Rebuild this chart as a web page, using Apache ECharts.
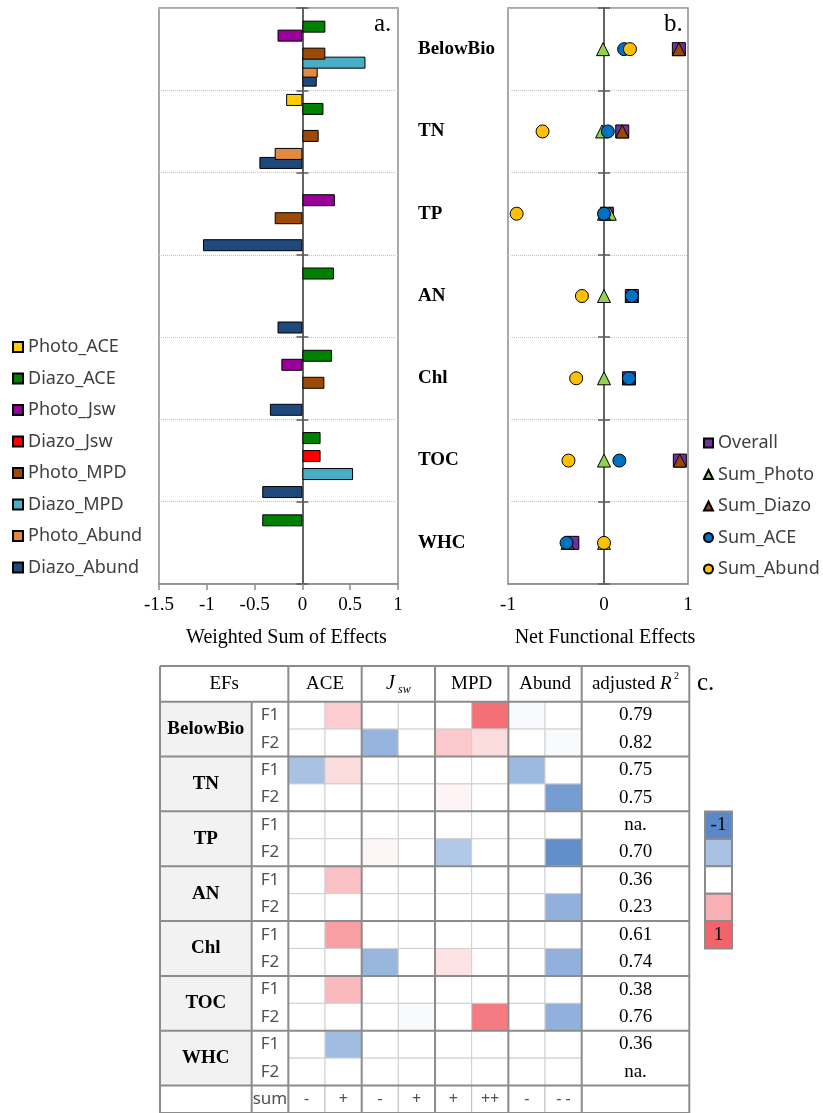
<!DOCTYPE html>
<html><head><meta charset="utf-8">
<script src="https://cdn.jsdelivr.net/npm/echarts@6/dist/echarts.min.js"></script>
<style>html,body{margin:0;padding:0;background:#fff}#c{width:823px;height:1113px}</style>
</head><body><div id="c"></div>
<script>
// ---------------- data ----------------
const efNames = ['BelowBio', 'TN', 'TP', 'AN', 'Chl', 'TOC', 'WHC'];

// panel a: weighted sum of effects (0 = no bar)
const barNames = ['Photo_ACE', 'Diazo_ACE', 'Photo_Jsw', 'Diazo_Jsw', 'Photo_MPD', 'Diazo_MPD', 'Photo_Abund', 'Diazo_Abund'];
const photoACE   = [0, -0.17, 0, 0, 0, 0, 0];
const diazoACE   = [0.24, 0.22, 0, 0.33, 0.31, 0.19, -0.42];
const photoJsw   = [-0.26, 0, 0.34, 0, -0.22, 0, 0];
const diazoJsw   = [0, 0, 0, 0, 0, 0.19, 0];
const photoMPD   = [0.24, 0.17, -0.29, 0, 0.23, 0, 0];
const diazoMPD   = [0.66, 0, 0, 0, 0, 0.53, 0];
const photoAbund = [0.16, -0.29, 0, 0, 0, 0, 0];
const diazoAbund = [0.15, -0.45, -1.04, -0.26, -0.34, -0.42, 0];
const axisATicks = [-1.5, -1, -0.5, 0, 0.5, 1];

// panel b: net functional effects
const pointNames = ['Overall', 'Sum_Photo', 'Sum_Diazo', 'Sum_ACE', 'Sum_Abund'];
const overall  = [0.78, 0.19, 0.03, 0.29, 0.26, 0.79, -0.33];
const sumPhoto = [-0.01, -0.02, 0.06, 0, 0, 0, 0];
const sumDiazo = [0.78, 0.19, 0, 0.29, 0.26, 0.79, -0.38];
const sumACE   = [0.21, 0.04, 0, 0.29, 0.26, 0.16, -0.39];
const sumAbund = [0.27, -0.64, -0.91, -0.23, -0.29, -0.37, 0];
const axisBTickValues = [-1, 0, 0.875];
const axisBTickLabels = ['-1', '0', '1'];

// panel c: table
const factorLabels = ['F1', 'F2'];
const colGroups = ['ACE', 'Jsw', 'MPD', 'Abund'];
const sumSigns = ['-', '+', '-', '+', '+', '++', '-', '- -'];
const adjR2 = ['0.79', '0.82', '0.75', '0.75', 'na.', '0.70', '0.36', '0.23', '0.61', '0.74', '0.38', '0.76', '0.36', 'na.'];
// columns: ACE-, ACE+, Jsw-, Jsw+, MPD+, MPD++, Abund-, Abund--
const cellValues = [
  [0, 0.32, 0, 0, 0, 0.92, -0.04, 0],      // BelowBio F1
  [0, 0, -0.62, 0, 0.35, 0.22, 0, -0.04],  // BelowBio F2
  [-0.5, 0.22, 0, 0, 0, 0, -0.58, 0],      // TN F1
  [0, 0, 0, 0, 0.07, 0, 0, -0.82],         // TN F2
  [0, 0, 0, 0, 0, 0, 0, 0],                // TP F1
  [0, 0, 0.06, 0, -0.45, 0, 0, -0.95],     // TP F2
  [0, 0.4, 0, 0, 0, 0, 0, 0],              // AN F1
  [0, 0, 0, 0, 0, 0, 0, -0.65],            // AN F2
  [0, 0.62, 0, 0, 0, 0, 0, 0],             // Chl F1
  [0, 0, -0.6, 0, 0.18, 0, 0, -0.65],      // Chl F2
  [0, 0.45, 0, 0, 0, 0, 0, 0],             // TOC F1
  [0, 0, 0, -0.04, 0, 0.85, 0, -0.65],     // TOC F2
  [0, -0.55, 0, 0, 0, 0, 0, 0],            // WHC F1
  [0, 0, 0, 0, 0, 0, 0, 0]                 // WHC F2
];
const legendSteps = [-1, -0.5, 0, 0.5, 1];
const legendLabels = ['-1', '', '', '', '1'];

// ---------------- styles ----------------
const SERIF = "'Liberation Serif', 'Times New Roman', serif";
const SANS = "'Noto Sans', sans-serif";
const FRAME = '#8c8c8c';
const ZERO = '#5a5a5a';
const barColors = ['#ffcc00', '#008000', '#990099', '#ff0000', '#9c4a06', '#4bacc6', '#e08a44', '#1f497d'];
const pointStyles = [
  {symbol: 'rect', color: '#7030a0'},
  {symbol: 'triangle', color: '#92d050'},
  {symbol: 'triangle', color: '#974706'},
  {symbol: 'circle', color: '#0070c0'},
  {symbol: 'circle', color: '#ffc000'}
];
const colorStops = [[-1, [90, 136, 200]], [-0.5, [169, 194, 228]], [0, [255, 255, 255]], [0.5, [249, 177, 181]], [1, [242, 100, 107]]];
function colorFor(v) {
  for (let i = 1; i < colorStops.length; i++) {
    if (v <= colorStops[i][0]) {
      const a = colorStops[i - 1], b = colorStops[i];
      const t = (v - a[0]) / (b[0] - a[0]);
      const c = a[1].map((x, k) => Math.round(x + (b[1][k] - x) * t));
      return 'rgb(' + c.join(',') + ')';
    }
  }
  return 'rgb(' + colorStops[colorStops.length - 1][1].join(',') + ')';
}

// ---------------- table layout (in table units) ----------------
const U_HEAD = 2.5, U_FAC = 1, U_R2 = 2.934, HEAD_H = 1.3;
const X_DATA = U_HEAD + U_FAC;
const X_R2 = X_DATA + 8;
const TW = X_R2 + U_R2;
const NROW = cellValues.length;
const TH = HEAD_H + NROW + 1;

const tableCells = [];
function addCell(x0, y0, x1, y1, o) { tableCells.push(Object.assign({x0, y0, x1, y1}, o)); }
// header row
addCell(0, 0, X_DATA, HEAD_H, {fill: '#fff', text: 'EFs', font: {fontFamily: SERIF, fontSize: 19, fill: '#000'}});
colGroups.forEach((g, k) => {
  const o = {fill: '#fff', font: {fontFamily: SERIF, fontSize: 19, fill: '#000'}};
  if (g === 'Jsw') {
    o.text = '{j|J}{s| sw}';
    o.rich = {j: {fontFamily: SERIF, fontStyle: 'italic', fontSize: 20, fill: '#000', lineHeight: 24},
              s: {fontFamily: SERIF, fontStyle: 'italic', fontSize: 12, fill: '#000', verticalAlign: 'bottom', lineHeight: 14}};
  } else o.text = g;
  addCell(X_DATA + 2 * k, 0, X_DATA + 2 * k + 2, HEAD_H, o);
});
addCell(X_R2, 0, TW, HEAD_H, {fill: '#fff', text: '{n|adjusted }{i|R}{p| 2}',
  rich: {n: {fontFamily: SERIF, fontSize: 19, fill: '#000', lineHeight: 24},
         i: {fontFamily: SERIF, fontStyle: 'italic', fontSize: 19, fill: '#000', lineHeight: 24},
         p: {fontFamily: SERIF, fontSize: 10, fill: '#000', verticalAlign: 'top', lineHeight: 14}}});
// body
efNames.forEach((ef, g) => {
  const y = HEAD_H + 2 * g;
  addCell(0, y, U_HEAD, y + 2, {fill: '#f2f2f2', text: ef, font: {fontFamily: SERIF, fontSize: 19, fontWeight: 'bold', fill: '#000'}});
  factorLabels.forEach((f, r) => {
    const yy = y + r;
    addCell(U_HEAD, yy, X_DATA, yy + 1, {fill: '#fff', text: f, font: {fontFamily: SANS, fontSize: 17, fill: '#505050'}});
    cellValues[2 * g + r].forEach((v, j) => {
      addCell(X_DATA + j, yy, X_DATA + j + 1, yy + 1, {fill: colorFor(v), stroke: '#cfcfcf'});
    });
    addCell(X_R2, yy, TW, yy + 1, {fill: '#fff', text: adjR2[2 * g + r], font: {fontFamily: SERIF, fontSize: 19, fill: '#000'}});
  });
});
// sum row
const ySum = HEAD_H + NROW;
addCell(U_HEAD, ySum, X_DATA, ySum + 1, {fill: '#fff', text: 'sum', align: 'left', font: {fontFamily: SANS, fontSize: 17, fill: '#505050'}});
sumSigns.forEach((s, j) => addCell(X_DATA + j, ySum, X_DATA + j + 1, ySum + 1, {fill: '#fff', stroke: '#bdbdbd', text: s, font: {fontFamily: SANS, fontSize: 16, fill: '#505050'}}));

// major rule lines of the table
const tableRules = [];
[0, HEAD_H].concat(efNames.map((e, g) => HEAD_H + 2 * (g + 1))).concat([TH]).forEach(y => tableRules.push([0, y, TW, y]));
[0, X_DATA, X_DATA + 2, X_DATA + 4, X_DATA + 6, X_R2, TW].forEach(x => tableRules.push([x, 0, x, TH]));
tableRules.push([U_HEAD, HEAD_H, U_HEAD, TH]);

// ---------------- chart ----------------
const chart = echarts.init(document.getElementById('c'));
const barSeriesData = [photoACE, diazoACE, photoJsw, diazoJsw, photoMPD, diazoMPD, photoAbund, diazoAbund];
const pointSeriesData = [overall, sumPhoto, sumDiazo, sumACE, sumAbund];

const series = [];
barNames.forEach((name, i) => series.push({
  name, type: 'bar', xAxisIndex: 0, yAxisIndex: 0,
  data: barSeriesData[i].map(v => v === 0 ? '-' : v),
  barWidth: 12, barGap: '-25%',
  itemStyle: {color: barColors[i], borderColor: '#000', borderWidth: 1},
  z: 20 - i
}));
pointNames.forEach((name, i) => series.push({
  name, type: 'scatter', xAxisIndex: 1, yAxisIndex: 2,
  symbol: pointStyles[i].symbol, symbolSize: 13,
  data: pointSeriesData[i].map((v, k) => [v, k]),
  itemStyle: {color: pointStyles[i].color, borderColor: '#000', borderWidth: 1, opacity: 1},
  z: 3 + i
}));
series.push({
  type: 'custom', xAxisIndex: 2, yAxisIndex: 5, z: 2, silent: true,
  data: tableCells.map(c => [c.x0, c.y0, c.x1, c.y1]),
  renderItem(params, api) {
    const c = tableCells[params.dataIndex];
    const p0 = api.coord([api.value(0), api.value(1)]);
    const p1 = api.coord([api.value(2), api.value(3)]);
    const ch = [{type: 'rect', shape: {x: p0[0], y: p0[1], width: p1[0] - p0[0], height: p1[1] - p0[1]},
                 style: {fill: c.fill, stroke: c.stroke || null, lineWidth: 1}}];
    if (c.text) {
      const st = Object.assign({text: c.text, x: c.align === 'left' ? p0[0] + 1 : (p0[0] + p1[0]) / 2, y: (p0[1] + p1[1]) / 2,
                                align: c.align || 'center', verticalAlign: 'middle'}, c.font || {});
      if (c.rich) st.rich = c.rich;
      ch.push({type: 'text', style: st});
    }
    return {type: 'group', children: ch};
  }
});
series.push({
  type: 'custom', xAxisIndex: 2, yAxisIndex: 5, z: 4, silent: true,
  data: tableRules,
  renderItem(params, api) {
    const p0 = api.coord([api.value(0), api.value(1)]);
    const p1 = api.coord([api.value(2), api.value(3)]);
    return {type: 'line', shape: {x1: p0[0], y1: p0[1], x2: p1[0], y2: p1[1]}, style: {stroke: FRAME, lineWidth: 2}};
  }
});
series.push({
  type: 'custom', xAxisIndex: 3, yAxisIndex: 6, z: 2, silent: true,
  data: legendSteps.map((v, i) => [0, i, v]),
  renderItem(params, api) {
    const c = api.coord([0, api.value(1)]);
    const s = api.size([1, 1]);
    const v = api.value(2);
    return {type: 'group', children: [
      {type: 'rect', shape: {x: c[0] - s[0] / 2, y: c[1] - s[1] / 2, width: s[0], height: s[1]},
       style: {fill: colorFor(v), stroke: FRAME, lineWidth: 2}},
      {type: 'text', style: {text: legendLabels[params.dataIndex], x: c[0], y: c[1], align: 'center', verticalAlign: 'middle',
        fontFamily: SERIF, fontSize: 19, fill: '#000'}}
    ]};
  }
});

const option = {
  animation: false,
  backgroundColor: '#fff',
  title: [
    {text: 'a.', left: 374, top: 12, padding: 0, textStyle: {fontFamily: SERIF, fontSize: 25, fontWeight: 'normal', color: '#000'}},
    {text: 'b.', left: 664, top: 12, padding: 0, textStyle: {fontFamily: SERIF, fontSize: 25, fontWeight: 'normal', color: '#000'}},
    {text: 'c.', left: 697, top: 671, padding: 0, textStyle: {fontFamily: SERIF, fontSize: 25, fontWeight: 'normal', color: '#000'}}
  ],
  legend: [
    {data: barNames, orient: 'vertical', left: 12, top: 337, padding: 0, icon: 'rect', itemWidth: 10, itemHeight: 10, itemGap: 11.5,
     textStyle: {fontFamily: SANS, fontSize: 18, color: '#404040', lineHeight: 20}, selectedMode: false},
    {data: pointNames, orient: 'vertical', left: 703, top: 433, padding: 0, itemWidth: 9, itemHeight: 9, itemGap: 11.5,
     textStyle: {fontFamily: SANS, fontSize: 18, color: '#404040', lineHeight: 20}, selectedMode: false}
  ],
  grid: [
    {left: 159, top: 8, width: 239, height: 576, show: true, borderColor: FRAME, borderWidth: 1.5, backgroundColor: 'transparent'},
    {left: 508, top: 8, width: 180, height: 576, show: true, borderColor: FRAME, borderWidth: 1.5, backgroundColor: 'transparent'},
    {left: 160, top: 666, width: 529.3, height: 27.5 * TH},
    {left: 705, top: 811.5, width: 27, height: 137}
  ],
  xAxis: [
    {gridIndex: 0, type: 'value', min: -1.5, max: 1, interval: 0.5,
     axisLine: {show: true, onZero: false, lineStyle: {color: FRAME, width: 1.5}},
     axisTick: {show: true, length: 6, lineStyle: {color: FRAME, width: 1.5}},
     axisLabel: {fontFamily: SERIF, fontSize: 19, color: '#000', margin: 12, formatter: v => String(axisATicks[axisATicks.indexOf(v)])},
     splitLine: {show: false},
     name: 'Weighted Sum of Effects', nameLocation: 'middle', nameGap: 44,
     nameTextStyle: {fontFamily: SERIF, fontSize: 20, color: '#000', padding: [0, 0, 0, 16]}},
    {gridIndex: 1, type: 'value', min: -1, max: 0.875,
     axisLine: {show: true, onZero: false, lineStyle: {color: FRAME, width: 1.5}},
     axisTick: {show: false},
     axisLabel: {customValues: axisBTickValues, fontFamily: SERIF, fontSize: 19, color: '#000', margin: 12,
       formatter: v => axisBTickLabels[axisBTickValues.indexOf(v)]},
     splitLine: {show: false},
     name: 'Net Functional Effects', nameLocation: 'middle', nameGap: 44,
     nameTextStyle: {fontFamily: SERIF, fontSize: 20, color: '#000', padding: [0, 0, 0, 14]}},
    {gridIndex: 2, type: 'value', min: 0, max: TW, show: false},
    {gridIndex: 3, type: 'category', data: ['scale'], show: false}
  ],
  yAxis: [
    {gridIndex: 0, type: 'category', data: efNames, inverse: true,
     axisLine: {show: true, onZero: true, lineStyle: {color: ZERO, width: 1.5}},
     axisTick: {show: true, length: 6, lineStyle: {color: ZERO, width: 1.5}},
     axisLabel: {show: false},
     splitLine: {show: true, lineStyle: {color: '#c4c4c4', type: 'dotted', width: 1}}},
    {gridIndex: 0, type: 'category', data: efNames, inverse: true, position: 'right',
     axisLine: {show: true, onZero: true, onZeroAxisIndex: 0, lineStyle: {color: ZERO, width: 1.5}},
     axisTick: {show: true, length: 6, lineStyle: {color: ZERO, width: 1.5}},
     axisLabel: {show: false}, splitLine: {show: false}},
    {gridIndex: 1, type: 'category', data: efNames, inverse: true,
     axisLine: {show: true, onZero: true, lineStyle: {color: ZERO, width: 1.5}},
     axisTick: {show: true, length: 6, lineStyle: {color: ZERO, width: 1.5}},
     axisLabel: {show: false},
     splitLine: {show: true, lineStyle: {color: '#c4c4c4', type: 'dotted', width: 1}}},
    {gridIndex: 1, type: 'category', data: efNames, inverse: true, position: 'right',
     axisLine: {show: true, onZero: true, onZeroAxisIndex: 1, lineStyle: {color: ZERO, width: 1.5}},
     axisTick: {show: true, length: 6, lineStyle: {color: ZERO, width: 1.5}},
     axisLabel: {show: false}, splitLine: {show: false}},
    {gridIndex: 1, type: 'category', data: efNames, inverse: true, position: 'left',
     axisLine: {show: false, onZero: false}, axisTick: {show: false},
     axisLabel: {align: 'left', margin: 90, fontFamily: SERIF, fontSize: 19, fontWeight: 'bold', color: '#000'},
     splitLine: {show: false}},
    {gridIndex: 2, type: 'value', min: 0, max: TH, inverse: true, show: false},
    {gridIndex: 3, type: 'category', data: legendSteps.map(String), inverse: true, show: false}
  ],
  series
};
chart.setOption(option);
</script>
</body></html>
